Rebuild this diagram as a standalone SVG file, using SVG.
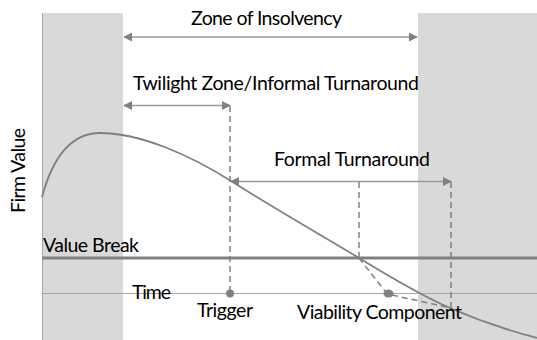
<svg xmlns="http://www.w3.org/2000/svg" width="537" height="340" viewBox="0 0 537 340">
  <style>
    .band { fill: #d9d9d9; }
    .lbl { font-family: Lato, "Open Sans", "Liberation Sans", sans-serif; font-size: 19.5px; fill: #000; }
    .arrow { stroke: #9a9a9a; stroke-width: 1.5; fill: none; }
    .dash { stroke: #808080; stroke-width: 1.5; fill: none; stroke-dasharray: 6 4; }
    .curve { stroke: #808080; stroke-width: 1.8; fill: none; }
  </style>
  <defs>
    <marker id="ah" viewBox="0 0 10 10" refX="9" refY="5" markerWidth="9" markerHeight="9" markerUnits="userSpaceOnUse" orient="auto-start-reverse">
      <path d="M0,0 L10,5 L0,10 Z" fill="#808080"/>
    </marker>
  </defs>
  <rect width="537" height="340" fill="#ffffff"/>
  <g id="bands">
    <rect class="band" x="42" y="13" width="81" height="327"/>
    <rect class="band" x="418" y="13" width="119" height="327"/>
    <line x1="42.5" y1="13" x2="42.5" y2="340" stroke="#a6a6a6" stroke-width="1"/>
  </g>
  <g id="axes">
    <line id="value-break-line" x1="42" y1="258" x2="537" y2="258" stroke="#808080" stroke-width="3"/>
    <line id="time-line" x1="42" y1="293.5" x2="537" y2="293.5" stroke="#a6a6a6" stroke-width="1"/>
  </g>
  <g id="curve">
    <path class="curve" d="M42,197 C52,160 70,133 100,133 C140,133 190,155 231,181 C290,218 330,240 359,258 C390,277 420,295 450,308 C480,321 510,331 537,338"/>
  </g>
  <g id="connectors">
    <line class="arrow" x1="124" y1="37" x2="417" y2="37" marker-start="url(#ah)" marker-end="url(#ah)"/>
    <line class="arrow" x1="124" y1="105.5" x2="230" y2="105.5" marker-start="url(#ah)" marker-end="url(#ah)"/>
    <line class="arrow" x1="231" y1="181.5" x2="451" y2="181.5" marker-start="url(#ah)" marker-end="url(#ah)"/>
    <line class="dash" x1="230" y1="106" x2="230" y2="293"/>
    <line class="dash" x1="359" y1="182" x2="359" y2="258"/>
    <line class="dash" x1="451" y1="182" x2="451" y2="308"/>
    <path class="dash" d="M359,258 L385,291 M392,295 L451,308"/>
  </g>
  <g id="trigger">
    <circle cx="230" cy="293.5" r="4" fill="#808080"/>
    <text class="lbl" x="197" y="317" textLength="56">Trigger</text>
  </g>
  <g id="viability">
    <ellipse cx="388.5" cy="293.5" rx="5" ry="4" fill="#808080"/>
    <text class="lbl" x="297" y="319" textLength="165">Viability Component</text>
  </g>
  <g id="labels">
    <text class="lbl" x="191" y="25" textLength="151">Zone of Insolvency</text>
    <text class="lbl" x="133" y="90" textLength="286">Twilight Zone/Informal Turnaround</text>
    <text class="lbl" x="274" y="165.5" textLength="156">Formal Turnaround</text>
    <text class="lbl" x="43" y="252" textLength="96">Value Break</text>
    <text class="lbl" x="132" y="299" textLength="39">Time</text>
    <text class="lbl" transform="translate(25,213) rotate(-90)" textLength="85">Firm Value</text>
  </g>
</svg>
